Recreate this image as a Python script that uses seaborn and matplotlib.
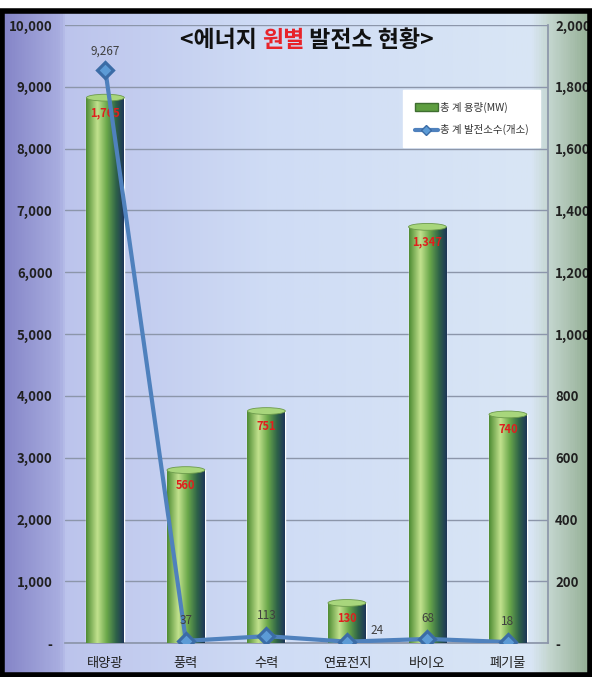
import numpy as np
import pandas as pd
import matplotlib
matplotlib.use("Agg")
import matplotlib.pyplot as plt
import seaborn as sns
from matplotlib.colors import LinearSegmentedColormap
from matplotlib.patches import Rectangle, Ellipse, Patch
from matplotlib.lines import Line2D
from matplotlib.ticker import FuncFormatter

# data
categories = ["태양광", "풍력", "수력", "연료전지", "바이오", "폐기물"]
capacity_mw = [1765, 560, 751, 130, 1347, 740]      # bars, right axis
plant_count = [9267, 37, 113, 24, 68, 18]           # line, left axis
left_ticks = list(range(0, 10001, 1000))
right_ticks = list(range(0, 2001, 200))

df = pd.DataFrame({"source": categories, "capacity": capacity_mw, "count": plant_count})

sns.set_theme(style="white")
plt.rcParams['font.family'] = ['Noto Sans CJK KR', 'DejaVu Sans']

fig = plt.figure(figsize=(5.92, 6.77), dpi=100)
fig.patch.set_facecolor("white")

# background gradient (purple left margin, light blue plot, green right margin)
bg_cmap = LinearSegmentedColormap.from_list("bg", [
    (0.0, "#8383c6"), (0.10, "#a9aee0"), (0.11, "#bcc4ec"),
    (0.45, "#cfdcf5"), (0.90, "#d9e6f5"), (0.93, "#c4d6cf"), (1.0, "#93ae93")])
bg = fig.add_axes([0, 0, 1, 0.985], zorder=-10)
bg.imshow(np.linspace(0, 1, 600)[None, :], cmap=bg_cmap, aspect="auto", extent=[0, 1, 0, 1])
bg.set_axis_off()

# frame
fig.patches.append(Rectangle((0.004, 0.003), 0.992, 0.981, transform=fig.transFigure,
                             fill=False, lw=4, ec="black", zorder=20))

ax = fig.add_axes([0.11, 0.05, 0.816, 0.913])
ax.set_facecolor("none")

# bars: capacity on the right-hand scale
sns.barplot(data=df, x="source", y="capacity", ax=ax, width=0.47, color="#5e9e40", zorder=2)

bar_cmap = LinearSegmentedColormap.from_list("bar", [
    (0.0, "#4f8c33"), (0.3, "#c2e28e"), (0.55, "#6aa84a"), (0.8, "#2e6248"), (1.0, "#1e3658")])
for p in ax.patches:
    x0, w, h = p.get_x(), p.get_width(), p.get_height()
    im = ax.imshow(np.linspace(0, 1, 100)[None, :], cmap=bar_cmap, aspect="auto",
                   extent=[x0, x0 + w, 0, h], zorder=3)
    im.set_clip_path(p)
    ax.add_patch(Ellipse((x0 + w / 2, h), w, 22, fc="#a8d67c", ec="#6c9a4c", lw=0.6, zorder=4))
ax.set_xlim(-0.5, len(categories) - 0.5)
ax.set_ylim(0, 2000)
ax.set_yticks(right_ticks)

for i, v in enumerate(capacity_mw):
    ax.annotate(f"{v:,}", (i, v), xytext=(0, -11), textcoords="offset points",
                ha="center", va="center", color="#e01e1e", fontsize=8, fontweight="bold", zorder=5)

# line: number of plants on the left-hand scale
ax2 = ax.twinx()
sns.pointplot(data=df, x="source", y="count", ax=ax2, color="#4f81bd", markers="D",
              markersize=8, linewidth=3.0, errorbar=None,
              markerfacecolor="#5c9bd6", markeredgecolor="#3b6ca6")
ax2.set_ylim(0, 10000)
ax2.set_yticks(left_ticks)
ax2.set_xlim(-0.5, len(categories) - 0.5)

offsets = [(0, 14), (0, 15), (0, 15), (22, 8), (0, 15), (0, 15)]
for i, v in enumerate(plant_count):
    ax2.annotate(f"{v:,}", (i, v), xytext=offsets[i], textcoords="offset points",
                 ha="center", va="center", color="#404040", fontsize=8.5)

# axis sides swapped: left shows count, right shows capacity
ax.yaxis.tick_right()
ax2.yaxis.tick_left()
fmt = FuncFormatter(lambda v, _: "-" if v == 0 else f"{int(v):,}")
ax.yaxis.set_major_formatter(fmt)
ax2.yaxis.set_major_formatter(fmt)
for a in (ax, ax2):
    a.set_xlabel("")
    a.set_ylabel("")
    for s in a.spines.values():
        s.set_visible(False)
ax.tick_params(axis="y", length=0, labelsize=9.5, colors="#202020", pad=5)
ax2.tick_params(axis="y", length=0, labelsize=9.5, colors="#202020", pad=9)
for lab in ax.get_yticklabels() + ax2.get_yticklabels():
    lab.set_fontweight("bold")

ax.yaxis.grid(True, color="#8c96aa", lw=1)
ax.xaxis.grid(False)
ax2.grid(False)
ax.spines["bottom"].set_visible(True)
ax.spines["bottom"].set_color("#8c96aa")
ax.spines["right"].set_visible(True)
ax.spines["right"].set_color("#8c96aa")
ax.tick_params(axis="x", length=0, labelsize=9.5, colors="#202020", pad=10)
ax.set_xticks(np.arange(len(categories)) + 0.5, minor=True)
ax.tick_params(axis="x", which="minor", length=4, color="#8c96aa", direction="out")
ax2.tick_params(axis="x", which="both", length=0, labelbottom=False, labeltop=False)

# title with a red middle word
t1 = ax2.text(0.238, 0.975, "<에너지 ", transform=ax2.transAxes, fontsize=16.5,
              fontweight="bold", color="#111111", ha="left", va="center")
t2 = ax2.annotate("원별", xy=(1, 0.5), xycoords=t1, ha="left", va="center",
                  fontsize=16.5, fontweight="bold", color="#e8232a")
ax2.annotate(" 발전소 현황>", xy=(1, 0.5), xycoords=t2, ha="left", va="center",
             fontsize=16.5, fontweight="bold", color="#111111")

handles = [Patch(facecolor="#5e9e40", edgecolor="#3f6e30"),
           Line2D([], [], color="#4f81bd", lw=3, marker="D", markersize=5,
                  markerfacecolor="#5c9bd6", markeredgecolor="#3b6ca6")]
leg = ax2.legend(handles, ["총 계 용량(MW)", "총 계 발전소수(개소)"], loc="upper right",
                 bbox_to_anchor=(0.994, 0.903), fontsize=7.5, frameon=True, fancybox=False,
                 handlelength=2.2, handletextpad=0.2, borderpad=1.1, labelspacing=1.1)
leg.get_frame().set_facecolor("white")
leg.get_frame().set_edgecolor("white")
leg.get_frame().set_alpha(1)
for t in leg.get_texts():
    t.set_color("#333333")

fig.savefig("out.png", dpi=100)
